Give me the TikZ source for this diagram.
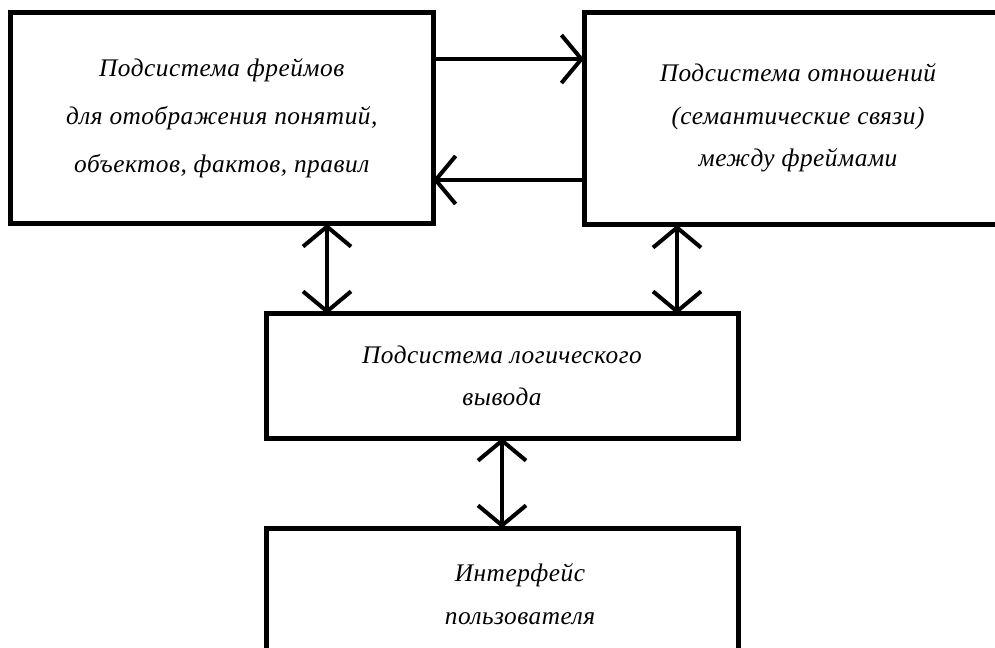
\documentclass[tikz,border=0pt]{standalone}
\usepackage{fontspec}
\setmainfont{Liberation Serif}[LetterSpace=2]
\usetikzlibrary{arrows.meta}
\begin{document}
\begin{tikzpicture}[x=0.75pt,y=-0.75pt,
  box/.style={draw, line width=3.75pt, outer sep=0pt, inner sep=0pt, align=center},
  txtA/.style={font=\fontsize{19}{36}\selectfont\itshape},
  txtB/.style={font=\fontsize{19}{32}\selectfont\itshape},
  barb/.tip={Straight Barb[length=15pt,width=36pt,line width=3pt]},
  link/.style={line width=3pt}]
\useasboundingbox (0,0) rectangle (995,648);
\clip (0,0) rectangle (995,648);
\node[box, txtA, minimum width=316.9pt, minimum height=158.6pt] (b1) at (221.75,118.25)
  {Подсистема фреймов\\для отображения понятий,\\объектов, фактов, правил};
\node[box, txtB, minimum width=321pt, minimum height=159pt] (b2) at (798,119)
  {Подсистема отношений\\(семантические связи)\\между фреймами\\[-26pt]};
\node[box, txtB, minimum width=354pt, minimum height=93pt] (b3) at (502,376)
  {Подсистема логического\\вывода};
\node[box, txtB, minimum width=354pt, minimum height=99pt] (b4) at (502,594)
  {\hspace*{27pt}Интерфейс\\\hspace*{27pt}пользователя};
\coordinate (t1) at ([yshift=-34.9pt]b1.north east);
\coordinate (t2) at ([yshift=-125.6pt]b1.north east);
\draw[link, -barb] (t1) -- (t1 -| b2.west);
\draw[link, -barb] (t2 -| b2.west) -- (t2);
\coordinate (v1) at ([xshift=237.4pt]b1.south west);
\coordinate (v2) at ([xshift=69.75pt]b2.south west);
\draw[link, barb-barb] (v1) -- (v1 |- b3.north);
\draw[link, barb-barb] (v2) -- (v2 |- b3.north);
\draw[link, barb-barb] (b3.south) -- (b4.north);
\end{tikzpicture}
\end{document}
